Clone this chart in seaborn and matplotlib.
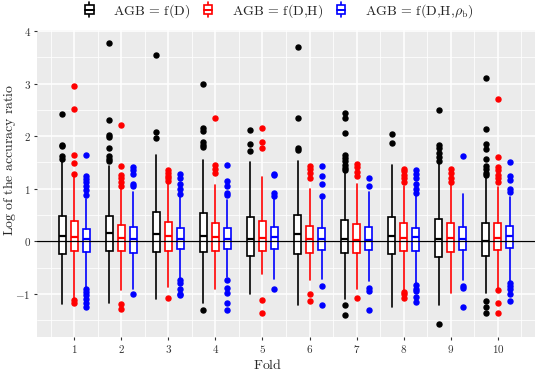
import matplotlib
matplotlib.use("Agg")
import matplotlib.pyplot as plt
import seaborn as sns
from matplotlib.legend_handler import HandlerBase
from matplotlib.patches import Rectangle, Patch
from matplotlib.lines import Line2D

# ---------------- data ----------------
folds = [1, 2, 3, 4, 5, 6, 7, 8, 9, 10]
series_labels = [r"$\mathrm{AGB}\,=\,\mathrm{f(D)}$",
                 r"$\mathrm{AGB}\,=\,\mathrm{f(D{,}H)}$",
                 r"$\mathrm{AGB}\,=\,\mathrm{f(D{,}H{,}\rho_b)}$"]
series_colors = ["black", "red", "blue"]

# AGB = f(D)
d_q1 = [-0.25, -0.18, -0.20, -0.20, -0.27, -0.25, -0.23, -0.25, -0.29, -0.27]
d_med = [0.10, 0.15, 0.14, 0.11, 0.05, 0.13, 0.04, 0.10, 0.05, 0.01]
d_q3 = [0.48, 0.48, 0.56, 0.54, 0.46, 0.51, 0.40, 0.46, 0.42, 0.34]
d_lo = [-1.19, -1.17, -1.10, -1.17, -1.00, -1.22, -1.09, -1.25, -1.22, -0.98]
d_hi = [1.50, 1.43, 1.65, 1.54, 1.50, 1.53, 1.32, 1.45, 1.48, 1.23]
d_out = [
    [2.42, 1.83, 1.81, 1.62, 1.56],
    [3.77, 2.30, 2.03, 1.99, 1.77, 1.62, 1.56, 1.52],
    [3.54, 2.08, 1.96],
    [3.00, 2.15, 2.10, 1.89, 1.84, 1.80, -1.30],
    [2.11, 1.85, 1.72],
    [3.70, 2.34, 1.78, 1.73],
    [2.44, 2.35, 2.06, 1.64, 1.59, 1.52, 1.45, 1.40, 1.35, -1.22, -1.40],
    [2.04, 1.87],
    [2.50, 1.83, 1.77, 1.68, 1.60, 1.52, -1.57],
    [3.10, 2.13, 1.86, 1.76, 1.57, 1.43, 1.37, 1.30, 1.27, -1.14, -1.25, -1.36],
]

# AGB = f(D,H)
h_q1 = [-0.18, -0.18, -0.18, -0.18, -0.18, -0.22, -0.23, -0.18, -0.21, -0.17]
h_med = [0.08, 0.07, 0.10, 0.08, 0.06, 0.04, 0.03, 0.07, 0.06, 0.07]
h_q3 = [0.39, 0.31, 0.36, 0.34, 0.39, 0.29, 0.33, 0.34, 0.34, 0.34]
h_lo = [-1.08, -0.92, -0.87, -0.90, -0.62, -0.74, -0.90, -0.92, -0.98, -0.90]
h_hi = [1.22, 1.03, 1.12, 1.08, 1.23, 1.00, 1.10, 1.05, 1.10, 1.03]
h_out = [
    [2.95, 2.51, 1.64, 1.49, 1.29, -1.12, -1.17],
    [2.22, 1.43, 1.27, 1.20, 1.13, 1.06, -1.20, -1.29],
    [1.35, 1.30, 1.25, 1.20, 1.15, -1.08],
    [2.34, 1.45, 1.38, 1.30],
    [2.15, 1.88, 1.77, -1.12, -1.37],
    [1.43, 1.37, 1.30, 1.21, -1.01, -1.14],
    [1.47, 1.42, 1.32, 1.25, -1.07],
    [1.38, 1.33, 1.27, 1.20, 1.12, -0.96, -1.00, -1.07],
    [1.37, 1.30, 1.20, 1.13],
    [2.70, 1.61, 1.42, 1.35, 1.27, 1.20, 1.12, -0.93, -1.17, -1.36],
]

# AGB = f(D,H,rho_b)
r_q1 = [-0.20, -0.22, -0.15, -0.14, -0.14, -0.16, -0.17, -0.18, -0.17, -0.13]
r_med = [0.04, 0.04, 0.05, 0.05, 0.08, 0.04, 0.03, 0.08, 0.04, 0.10]
r_q3 = [0.23, 0.27, 0.25, 0.26, 0.27, 0.25, 0.27, 0.26, 0.27, 0.29]
r_lo = [-0.87, -0.90, -0.71, -0.68, -0.71, -0.71, -0.76, -0.80, -0.74, -0.77]
r_hi = [0.81, 0.94, 0.84, 0.78, 0.84, 0.78, 0.94, 0.88, 0.90, 0.84]
r_out = [
    [1.64, 1.24, 1.19, 1.13, 1.05, 0.97, 0.88, -0.90, -0.97, -1.03, -1.10, -1.17, -1.24],
    [1.42, 1.35, 1.28, 1.10, 1.05, -1.00],
    [1.29, 1.20, 1.10, 1.00, 0.90, -0.73, -0.80, -0.90, -1.00, -1.03],
    [1.45, 1.14, 1.05, 0.92, 0.89, -0.74, -0.89, -0.99, -1.17, -1.31],
    [1.29, 1.26, 0.92, 0.86, -0.90],
    [1.43, 1.24, 1.09, 0.86, -0.85, -1.21],
    [1.21, 1.06, -0.89, -0.95, -1.30],
    [1.35, 1.28, 1.20, 1.10, 1.00, 0.92, -0.84, -0.90, -0.95, -1.05, -1.16],
    [1.63, -0.85, -0.89, -1.24],
    [1.50, 1.24, 1.16, 1.00, 0.94, -0.79, -0.85, -0.90, -1.00, -1.14],
]

y_ticks = [-1, 0, 1, 2, 3, 4]
y_tick_labels = ["$-1$", "$0$", "$1$", "$2$", "$3$", "$4$"]
x_tick_labels = [f"${f}$" for f in folds]

# ---------------- styling ----------------
sns.set_theme(style="darkgrid", rc={
    "axes.facecolor": "#EBEBEB",
    "grid.color": "white",
    "axes.edgecolor": "#EBEBEB",
})
plt.rcParams["mathtext.fontset"] = "cm"
plt.rcParams["font.family"] = ["DejaVu Serif"]

fig = plt.figure(figsize=(5.36, 3.72), dpi=100)
ax = fig.add_axes([37 / 536, 1 - 337 / 372, 498 / 536, 307 / 372])

series = [
    (d_q1, d_med, d_q3, d_lo, d_hi, d_out),
    (h_q1, h_med, h_q3, h_lo, h_hi, h_out),
    (r_q1, r_med, r_q3, r_lo, r_hi, r_out),
]
offsets = [-0.255, 0.0, 0.255]

for (q1, med, q3, lo, hi, out), col, off in zip(series, series_colors, offsets):
    stats = []
    for i in range(len(folds)):
        stats.append(dict(q1=q1[i], med=med[i], q3=q3[i], whislo=lo[i],
                          whishi=hi[i], fliers=out[i]))
    ax.bxp(stats, positions=[f + off for f in folds], widths=0.15,
           showcaps=False, patch_artist=True, manage_ticks=False,
           boxprops=dict(facecolor="white", edgecolor=col, linewidth=1.2),
           whiskerprops=dict(color=col, linewidth=1.2),
           medianprops=dict(color=col, linewidth=1.6),
           flierprops=dict(marker="o", markerfacecolor=col,
                           markeredgecolor=col, markersize=3.6, linestyle="none"))

ax.axhline(0, color="black", linewidth=0.9, zorder=5)

ax.set_xlim(0.213, 10.787)
ax.set_ylim(-1.82, 4.02)
ax.set_yticks(y_ticks)
ax.set_yticklabels(y_tick_labels)
ax.set_xticks(folds)
ax.set_xticklabels(x_tick_labels)
ax.set_yticks([-1.5, -0.5, 0.5, 1.5, 2.5, 3.5], minor=True)
ax.set_xticks([f + 0.5 for f in [0] + folds], minor=True)
ax.grid(True, which="major", color="white", linewidth=1.1)
ax.grid(True, which="minor", color="white", linewidth=0.55)
ax.tick_params(which="major", length=2.5, width=0.8, color="#333333",
               labelsize=8, labelcolor="#333333", pad=2, left=True, bottom=True)
ax.tick_params(which="minor", length=0)
for s in ax.spines.values():
    s.set_visible(False)

ax.set_xlabel(r"$\mathrm{Fold}$", fontsize=10)
ax.set_ylabel(r"$\mathrm{Log\ of\ the\ accuracy\ ratio}$", fontsize=10)
ax.xaxis.set_label_coords((268 - 37) / 498, (337 - 358) / 307)
ax.yaxis.set_label_coords((18 - 37) / 498, (337 - 160) / 307)


class BoxHandler(HandlerBase):
    def create_artists(self, legend, orig_handle, xdescent, ydescent,
                       width, height, fontsize, trans):
        c = orig_handle.get_edgecolor()
        cx = -xdescent + width / 2
        bw = width * 0.6
        y0 = -ydescent
        vline = Line2D([cx, cx], [y0 - 0.25 * height, y0 + 1.25 * height],
                       color=c, lw=1.2, transform=trans)
        box = Rectangle((cx - bw / 2, y0 + 0.05 * height), bw, 0.9 * height,
                        facecolor="white", edgecolor=c, lw=1.2, transform=trans)
        med = Line2D([cx - bw / 2, cx + bw / 2], [y0 + 0.5 * height] * 2,
                     color=c, lw=1.4, transform=trans)
        return [vline, box, med]


handles = [Patch(edgecolor=c, facecolor="white") for c in series_colors]
fig.legend(handles, series_labels, handler_map={Patch: BoxHandler()},
           loc="center", bbox_to_anchor=(278 / 536, 1 - 11 / 372), ncol=3,
           frameon=False, fontsize=10, handlelength=1.0, handletextpad=1.2,
           columnspacing=0.8)

fig.savefig("out.png", dpi=100)
